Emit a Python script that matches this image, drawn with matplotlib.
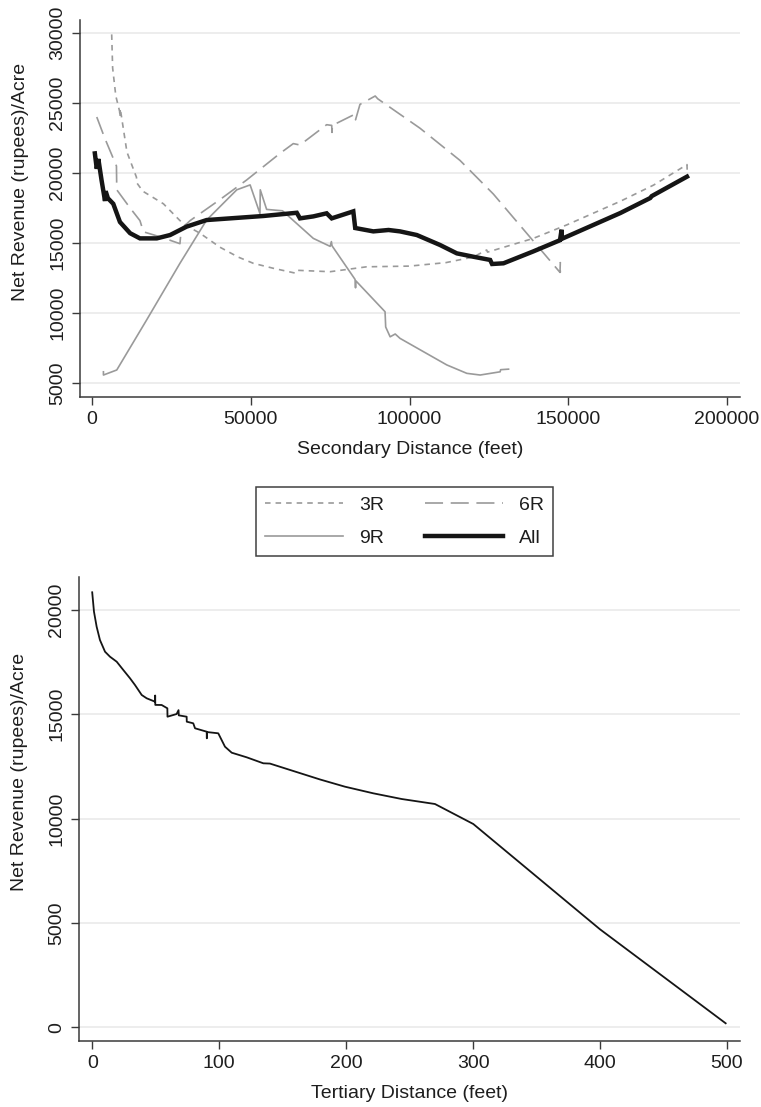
import matplotlib
matplotlib.use("Agg")
import matplotlib.pyplot as plt
from matplotlib.lines import Line2D

plt.rcParams['font.family'] = ['Liberation Sans', 'DejaVu Sans']
plt.rcParams['lines.scale_dashes'] = False

# ---------------- data: top panel (Secondary Distance) ----------------
r3_x = [6200, 6500, 7500, 8700, 8800, 8900, 11000, 14000, 14100, 16000, 22500, 27700, 30000,
        34000, 40300, 46000, 50800, 57000, 64000, 64600, 75000, 86500, 100000, 111500, 120100,
        124300, 124600, 139000, 149500, 166400, 176900, 187400, 187500]
r3_y = [29900, 27500, 25500, 24400, 24000, 24600, 21500, 19700, 19300, 18700, 17800, 16600, 16200,
        15700, 14700, 14000, 13550, 13200, 12850, 13050, 12950, 13300, 13350, 13600, 14000,
        14500, 14350, 15330, 16290, 17980, 19140, 20600, 19900]

r6_x = [1500, 4000, 7700, 7800, 12000, 15100, 16200, 22000, 27700, 28100, 30900, 40300, 48700,
        59200, 63400, 65500, 73900, 75500, 75600, 75700, 82800, 83000, 84400, 89200, 90000,
        103300, 115900, 126400, 136900, 147400, 147500, 147500]
r6_y = [24000, 22500, 20500, 18800, 17500, 16600, 15800, 15400, 14950, 16000, 16600, 18100, 19500,
        21400, 22100, 22000, 23450, 23400, 22900, 23400, 24200, 23800, 24900, 25500, 25300,
        23200, 20900, 18500, 15700, 12900, 13600, 12900]

r9_x = [3600, 3600, 7800, 17200, 27700, 36100, 45600, 49800, 52900, 53000, 55000, 60000, 69700,
        75000, 75400, 75600, 82850, 83000, 83100, 92300, 92500, 93900, 95500, 97000, 111750,
        118050, 122250, 128550, 128700, 131200]
r9_y = [5800, 5570, 5930, 9500, 13550, 16640, 18800, 19150, 17100, 18800, 17400, 17300, 15330,
        14760, 15100, 14800, 12400, 11800, 12300, 10090, 9000, 8300, 8500, 8190, 6290,
        5690, 5570, 5800, 5950, 5990]

all_x = [900, 1500, 2000, 3000, 4100, 4300, 5000, 6700, 8800, 12000, 15100, 20400, 24600, 29800,
         36100, 43500, 54000, 64500, 65500, 69700, 73900, 75500, 82300, 82900, 88600, 93400,
         97000, 102300, 109600, 114900, 120100, 125400, 126000, 129600, 139000, 147400, 147900,
         148000, 156900, 166400, 175800, 176300, 187400]
all_y = [21400, 20300, 21000, 19500, 18000, 18700, 18200, 17800, 16500, 15700, 15330, 15330, 15570, 16170,
         16640, 16760, 16930, 17160, 16760, 16900, 17120, 16760, 17260, 16070, 15830, 15930,
         15830, 15570, 14860, 14260, 14020, 13790, 13500, 13550, 14400, 15200, 15950,
         15300, 16190, 17140, 18210, 18350, 19740]

# ---------------- data: bottom panel (Tertiary Distance) ----------------
ter_x = [0, 1.4, 3.5, 6.1, 10.1, 14.0, 19.3, 24.5, 29.8, 33.7, 39.0, 42.9, 49.5, 49.6, 49.7,
         54.7, 59.2, 59.3, 66.5, 68.0, 68.2, 74.4, 74.5, 79.6, 81.0, 90.2, 90.3, 90.4,
         99.3, 104.6, 109.9, 121.7, 134.8, 140.0, 179.4, 199.1, 221.4, 243.8, 270.0, 300.2,
         400.0, 499.0]
ter_y = [20843, 19914, 19195, 18559, 17998, 17759, 17519, 17122, 16724, 16403, 15925, 15767, 15604, 15900, 15450,
         15446, 15287, 14885, 15014, 15200, 14950, 14885, 14646, 14569, 14330, 14167, 13850, 14150,
         14090, 13448, 13161, 12940, 12653, 12640, 11880, 11533, 11216, 10943, 10704, 9746,
         4703, 201]

top_xticks = [0, 50000, 100000, 150000, 200000]
top_yticks = [5000, 10000, 15000, 20000, 25000, 30000]
bot_xticks = [0, 100, 200, 300, 400, 500]
bot_yticks = [0, 5000, 10000, 15000, 20000]

W, H = 761, 1107
fig = plt.figure(figsize=(W / 100, H / 100), dpi=100)

GRAY = '#9a9a9a'
AXC = '#3a3a3a'
TXT = '#1e1e1e'
FS = 14


def fbox(l, t, r, b):
    return [l / W, 1 - b / H, (r - l) / W, (b - t) / H]


def style(ax, xticks, yticks, xlabel, ylabel, ylab_y):
    for s in ['top', 'right']:
        ax.spines[s].set_visible(False)
    for s in ['left', 'bottom']:
        ax.spines[s].set_color(AXC)
        ax.spines[s].set_linewidth(1.1)
    ax.set_xticks(xticks)
    ax.set_yticks(yticks)
    ax.tick_params(axis='both', direction='out', length=5.8, width=1.0, color=AXC,
                   labelsize=FS, labelcolor=TXT, pad=4)
    for lab in ax.get_yticklabels():
        lab.set_rotation(90)
        lab.set_va('center')
    ax.grid(axis='y', color='#ececec', linewidth=1.3)
    ax.grid(axis='x', visible=False)
    ax.set_axisbelow(True)
    ax.set_xlabel(xlabel, fontsize=FS, color=TXT, labelpad=10)
    ax.set_ylabel(ylabel, fontsize=FS, color=TXT)
    ax.yaxis.set_label_coords(-0.077, ylab_y)


ax1 = fig.add_axes(fbox(80, 20, 739.5, 397))
ax1.plot(r3_x, r3_y, color=GRAY, lw=1.2, dashes=(4, 3.6), label='3R')
ax1.plot(r6_x, r6_y, color=GRAY, lw=1.2, dashes=(13, 5.5), label='6R')
ax1.plot(r9_x, r9_y, color=GRAY, lw=1.2, label='9R')
ax1.plot(all_x, all_y, color='#151515', lw=3.2, solid_joinstyle='miter', label='All')
ax1.set_xlim(-3780, 203937)
ax1.set_ylim(4000, 30929)
style(ax1, top_xticks, top_yticks, 'Secondary Distance (feet)', 'Net Revenue (rupees)/Acre', 0.57)

ax2 = fig.add_axes(fbox(79, 577, 739.5, 1041))
ax2.plot(ter_x, ter_y, color='#151515', lw=1.3)
ax2.set_xlim(-10.4, 509.9)
ax2.set_ylim(-647, 21576)
style(ax2, bot_xticks, bot_yticks, 'Tertiary Distance (feet)', 'Net Revenue (rupees)/Acre', 0.58)

# legend: ncol=2 fills column-wise, so order is 3R, 9R | 6R, All
handles = [Line2D([], [], color=GRAY, lw=1.2, dashes=(4, 3.6)),
           Line2D([], [], color=GRAY, lw=1.2),
           Line2D([], [], color=GRAY, lw=1.2, dashes=(13, 5.5)),
           Line2D([], [], color='#151515', lw=3.2)]
labels = ['3R', '9R', '6R', 'All']
leg = fig.legend(handles, labels, loc='center', bbox_to_anchor=(404.5 / W, 1 - 521.5 / H),
                 ncol=2, fontsize=FS, frameon=True, fancybox=False, handlelength=4.0,
                 handletextpad=0.85, columnspacing=2.1, labelspacing=0.8, borderpad=0.45)
leg.get_frame().set_edgecolor('#111111')
leg.get_frame().set_linewidth(1.1)
for t in leg.get_texts():
    t.set_color(TXT)

fig.savefig('out.png', dpi=100, facecolor='white')
